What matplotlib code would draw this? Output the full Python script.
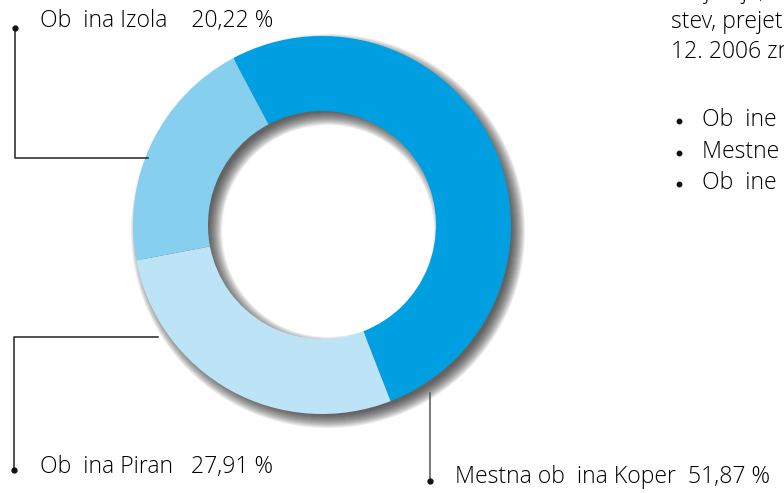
import matplotlib.pyplot as plt
from matplotlib.patches import Wedge

# Data
labels = ["Mestna ob  ina Koper", "Ob  ina Piran", "Ob  ina Izola"]
shares = [51.87, 27.91, 20.22]
share_txt = ["51,87 %", "27,91 %", "20,22 %"]
colors = ["#009FE1", "#BDE4F6", "#87CFEF"]

side_lines = ["do junija, sredstev", "stev, prejetih sredstev", "12. 2006 znaša"]
bullets = ["Ob  ine", "Mestne", "Ob  ine"]

W, H = 784, 493
fig = plt.figure(figsize=(7.84, 4.93), dpi=100)
ax = fig.add_axes([0, 0, 1, 1])

cx, cy = 322, H - 225
R, r = 189, 114

# soft shadow under the ring
for s in range(-5, 9):
    ax.add_patch(Wedge((cx + 6, cy - 6), R + s, 0, 360, width=(R + s) - (r - s),
                       facecolor="#202020", edgecolor="none", alpha=0.08, zorder=1))

wedges, _ = ax.pie(shares, colors=colors, startangle=118, counterclock=False,
                   radius=R, center=(cx, cy),
                   wedgeprops=dict(width=R - r, edgecolor="none"))
for w in wedges:
    w.set_zorder(2)

font = dict(family=["Open Sans", "DejaVu Sans"], fontweight="light", fontsize=16.6, color="#000000")

def yy(y):
    return H - y

# Izola leader
ax.plot([15, 15, 148], [yy(28), yy(158), yy(158)], color="#222222", lw=1.1, zorder=3)
ax.plot(15, yy(28), "o", color="#111111", ms=3.5, zorder=3)
ax.text(40, yy(21), labels[2] + "    " + share_txt[2], va="center", ha="left", **font)

# Piran leader
ax.plot([158, 14, 14], [yy(337), yy(337), yy(470)], color="#222222", lw=1.1, zorder=3)
ax.plot(14, yy(470), "o", color="#111111", ms=3.5, zorder=3)
ax.text(40, yy(467), labels[1] + "   " + share_txt[1], va="center", ha="left", **font)

# Koper leader
ax.plot([430, 430], [yy(393), yy(478)], color="#555555", lw=1.1, zorder=3)
ax.plot(430, yy(481), "o", color="#111111", ms=3.5, zorder=3)
ax.text(455, yy(477), labels[0] + "  " + share_txt[0], va="center", ha="left", **font)

# side text (cut by the page edge, as in the source)
for i, t in enumerate(side_lines):
    ax.text(671, yy(-8 + 30 * i), t, va="center", ha="left", **font)
for i, t in enumerate(bullets):
    ax.plot(679, yy(121 + 31.5 * i), "o", color="#111111", ms=3.2, zorder=3)
    ax.text(702, yy(120 + 31.5 * i), t + " ..........", va="center", ha="left", **font)

ax.set_xlim(0, W)
ax.set_ylim(0, H)
ax.set_aspect("auto")
ax.axis("off")
fig.savefig("out.png", dpi=100, facecolor="white")
